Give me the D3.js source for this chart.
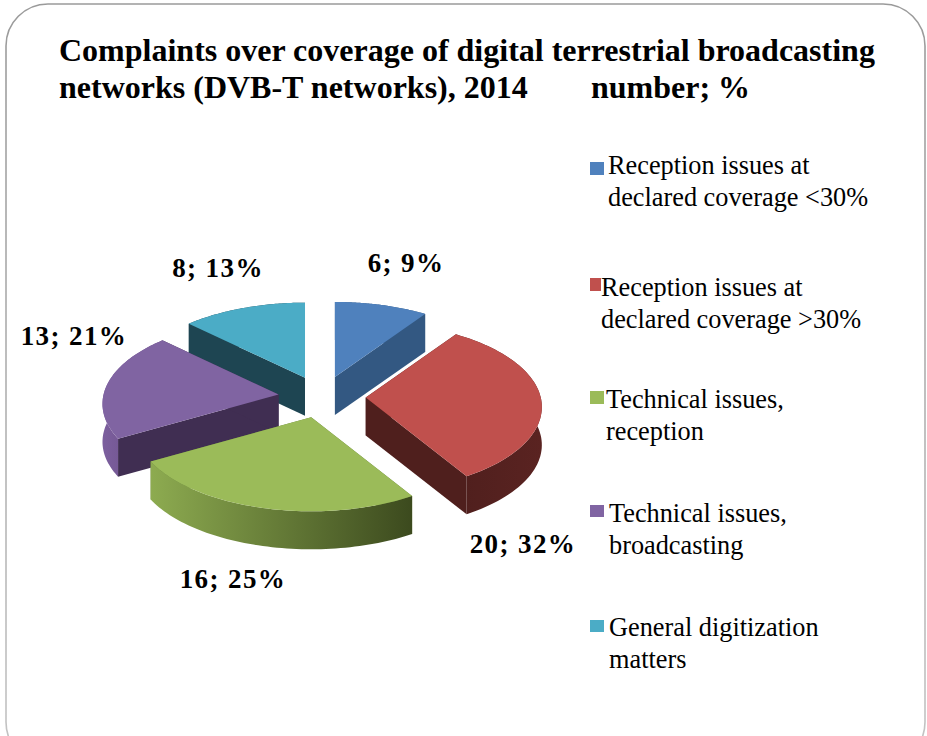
<!DOCTYPE html>
<html>
<head>
<meta charset="utf-8">
<script src="https://cdn.jsdelivr.net/npm/d3@7"></script>
<style>
html,body{margin:0;padding:0;background:#fff;}
svg{display:block;}
text{font-family:"Liberation Serif",serif;fill:#000;}
</style>
</head>
<body>
<svg id="chart" width="927" height="736"></svg>
<script>
// Complaint counts and shares per category
const categories = [
  ["Reception issues at", "declared coverage <30%"],
  ["Reception issues at", "declared coverage >30%"],
  ["Technical issues,", "reception"],
  ["Technical issues,", "broadcasting"],
  ["General digitization", "matters"]
];
const counts = [6, 20, 16, 13, 8];
const shares = [9, 32, 25, 21, 13];
const titleLines = [
  {text: "Complaints over coverage of digital terrestrial broadcasting", x: 59, y: 61},
  {text: "networks (DVB-T networks), 2014", x: 59, y: 98},
  {text: "number; %", x: 591, y: 98}
];

// Per-slice colours: top face, radial edge wall, rim wall start and end
const topColors  = ["#4f81bd", "#c0504d", "#9bbb59", "#8064a2", "#4bacc6"];
const edgeColors = ["#335882", "#4f1f1d", "#5f7a38", "#402e52", "#1e4552"];
const rimFrom    = ["#335882", "#4f1f1d", "#8dab50", "#7c5f9e", "#1e4552"];
const rimTo      = ["#335882", "#5a2321", "#3c4a1e", "#65497f", "#1e4552"];

// Label and legend placement
const labelPos  = [[406, 272], [523, 553], [233, 588], [74, 345], [218, 277]];
const legendPos = [
  {sx: 590, sy: 162, sw: 14, sh: 13, tx: 608, ty: 174},
  {sx: 590, sy: 278, sw: 11, sh: 13, tx: 601, ty: 296},
  {sx: 590, sy: 391, sw: 14, sh: 13, tx: 606, ty: 408},
  {sx: 590, sy: 505, sw: 14, sh: 12, tx: 609, ty: 522},
  {sx: 590, sy: 620, sw: 14, sh: 12, tx: 609, ty: 636}
];

// Perspective projection of the tilted pie
const cx = 322, cy = 397, rx = 175, ry = 83.5, persp = 0.112, explode = 0.25, depth = 38;
const project = (a, r = 1) => {
  const s = Math.sin(a), c = Math.cos(a), k = 1 + persp * c;
  return [r * rx * s / k, -r * ry * c / k];
};

const svg = d3.select("#chart");
const defs = svg.append("defs");

// Rounded frame
const frameGrad = defs.append("linearGradient").attr("id", "frame")
  .attr("x1", 0).attr("y1", 0).attr("x2", 0).attr("y2", 1);
frameGrad.append("stop").attr("offset", 0).attr("stop-color", "#9a9a9a");
frameGrad.append("stop").attr("offset", 1).attr("stop-color", "#c4c4c4");
svg.append("rect").attr("x", 6).attr("y", 4).attr("width", 919).attr("height", 760).attr("rx", 42)
  .attr("fill", "#fff").attr("stroke", "url(#frame)").attr("stroke-width", 1.6);

// Title
svg.append("g").selectAll("text").data(titleLines).join("text")
  .attr("x", d => d.x).attr("y", d => d.y)
  .attr("font-size", 32).attr("font-weight", "bold")
  .text(d => d.text);

// Slices
const arcs = d3.pie().sort(null).value(d => d)(counts);
const polyPath = pts => d3.line()(pts) + "Z";
const slices = arcs.map((d, i) => {
  const mid = (d.startAngle + d.endAngle) / 2;
  const apex = [
    cx + explode * rx * Math.sin(mid),
    cy - explode * ry * Math.cos(mid)
  ];
  const angle = d3.scaleLinear().domain([0, 64]).range([d.startAngle, d.endAngle]);
  const rim = d3.range(65).map(n => {
    const p = project(angle(n));
    return [apex[0] + p[0], apex[1] + p[1]];
  });
  return {i, apex, rim};
});
const down = p => [p[0], p[1] + depth];

// Back-to-front painting order
const order = slices.slice().sort((a, b) => a.apex[1] - b.apex[1]);
const pie = svg.append("g");
order.forEach(s => {
  const i = s.i;
  const grad = defs.append("linearGradient").attr("id", "rim" + i);
  grad.append("stop").attr("offset", 0).attr("stop-color", rimFrom[i]);
  grad.append("stop").attr("offset", 1).attr("stop-color", rimTo[i]);
  const first = s.rim[0], last = s.rim[s.rim.length - 1];
  // radial walls
  [first, last].forEach(p => {
    pie.append("path")
      .attr("d", polyPath([s.apex, p, down(p), down(s.apex)]))
      .attr("fill", edgeColors[i]);
  });
  // outer rim wall
  pie.append("path")
    .attr("d", polyPath(s.rim.concat(s.rim.slice().reverse().map(down))))
    .attr("fill", `url(#rim${i})`);
  // top face
  pie.append("path")
    .attr("d", polyPath([s.apex].concat(s.rim)))
    .attr("fill", topColors[i]);
});

// Value labels
svg.append("g").selectAll("text").data(counts).join("text")
  .attr("x", (d, i) => labelPos[i][0]).attr("y", (d, i) => labelPos[i][1])
  .attr("text-anchor", "middle").attr("font-size", 27).attr("font-weight", "bold")
  .attr("letter-spacing", 1.4)
  .text((d, i) => `${d}; ${shares[i]}%`);

// Legend
const legend = svg.append("g").selectAll("g").data(categories).join("g");
legend.append("rect")
  .attr("x", (d, i) => legendPos[i].sx).attr("y", (d, i) => legendPos[i].sy)
  .attr("width", (d, i) => legendPos[i].sw).attr("height", (d, i) => legendPos[i].sh)
  .attr("fill", (d, i) => topColors[i]);
legend.each(function(d, i) {
  d3.select(this).selectAll("text").data(d).join("text")
    .attr("x", legendPos[i].tx)
    .attr("y", (t, n) => legendPos[i].ty + n * 32)
    .attr("font-size", 26.3)
    .text(t => t);
});
</script>
</body>
</html>
